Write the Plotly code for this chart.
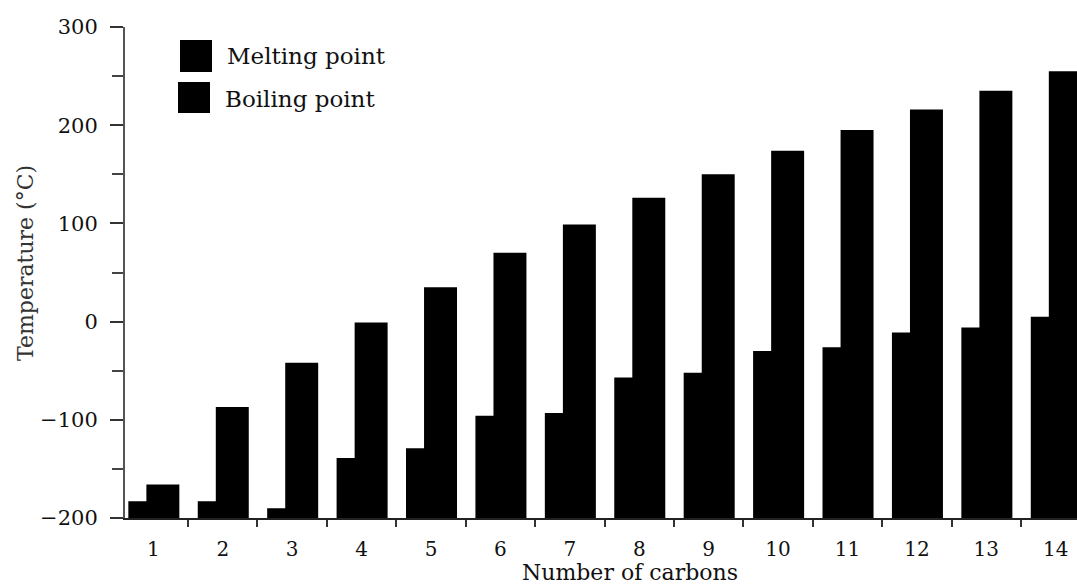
import plotly.graph_objects as go

# ---- data ----
carbons = list(range(1, 15))
melting_point = [-183, -183, -190, -139, -129, -96, -93, -57, -52, -30, -26, -11, -6, 5]
boiling_point = [-166, -87, -42, -1, 35, 70, 99, 126, 150, 174, 195, 216, 235, 255]
series_names = ["Melting point", "Boiling point"]
y_tick_vals = [-200, -100, 0, 100, 200, 300]
y_base = -200

W, H = 1077, 586
ML, MR, MT, MB = 125, 0, 27, 68
PW, PH = W - ML - MR, H - MT - MB

def px_x(p):
    return (p - ML) / PW

def px_y(p):
    return (H - MB - p) / PH

FONT = "DejaVu Serif"
BAR_W = 0.475

fig = go.Figure()
fig.add_trace(go.Bar(
    x=carbons, y=[v - y_base for v in melting_point], base=y_base,
    name=series_names[0], marker=dict(color="black", line=dict(width=0)),
    width=BAR_W, offset=-0.36, showlegend=False,
))
fig.add_trace(go.Bar(
    x=carbons, y=[v - y_base for v in boiling_point], base=y_base,
    name=series_names[1], marker=dict(color="black", line=dict(width=0)),
    width=BAR_W, offset=-0.10, showlegend=False,
))

# legend drawn as large squares + text
legend_items = [
    (series_names[0], 180, 212, 40, 72, 56),
    (series_names[1], 178, 210, 82, 113, 99),
]
shapes = []
annotations = []
for name, x0, x1, y0, y1, ty in legend_items:
    shapes.append(dict(type="rect", xref="paper", yref="paper",
                       x0=px_x(x0), x1=px_x(x1), y0=px_y(y1), y1=px_y(y0),
                       fillcolor="black", line=dict(width=0)))
    annotations.append(dict(text=name, xref="paper", yref="paper",
                            x=px_x(x1 + 13), y=px_y(ty), xanchor="left", yanchor="middle",
                            showarrow=False, font=dict(family=FONT, size=23, color="#111")))

annotations.append(dict(text="Temperature (°C)", xref="paper", yref="paper",
                        x=px_x(25), y=px_y(263), textangle=-90,
                        xanchor="center", yanchor="middle", showarrow=False,
                        font=dict(family=FONT, size=22, color="#333")))
annotations.append(dict(text="Number of carbons", xref="paper", yref="paper",
                        x=px_x(630), y=px_y(586), xanchor="center", yanchor="bottom",
                        showarrow=False, borderpad=0,
                        font=dict(family=FONT, size=22, color="#111")))

fig.update_layout(
    width=W, height=H,
    margin=dict(l=ML, r=MR, t=MT, b=MB, pad=0),
    plot_bgcolor="white", paper_bgcolor="white",
    barmode="overlay", showlegend=False,
    shapes=shapes, annotations=annotations,
    font=dict(family=FONT, size=21, color="#111"),
)
fig.update_xaxes(
    range=[0.592, 14.306], tickvals=carbons, ticktext=[str(c) for c in carbons],
    ticks="", showgrid=False, zeroline=False,
    showline=True, linecolor="#222", linewidth=2,
    ticklabelstandoff=12,
    tickfont=dict(family=FONT, size=20, color="#111"),
    minor=dict(tick0=0.5, dtick=1, ticks="outside", ticklen=7, tickwidth=2, tickcolor="#333", showgrid=False),
)
fig.update_yaxes(
    range=[-200, 300], tickvals=y_tick_vals,
    ticks="outside", ticklen=13, tickwidth=2, tickcolor="#333",
    showgrid=False, zeroline=False,
    showline=True, linecolor="#555", linewidth=2,
    ticklabelstandoff=8,
    tickfont=dict(family=FONT, size=21, color="#111"),
    minor=dict(dtick=50, tick0=0, ticks="outside", ticklen=11, tickwidth=2, tickcolor="#444", showgrid=False),
)

fig.write_html(
    "out.html",
    config={"displayModeBar": False},
    post_script="document.body.style.margin='0';document.body.style.overflow='hidden';",
)
